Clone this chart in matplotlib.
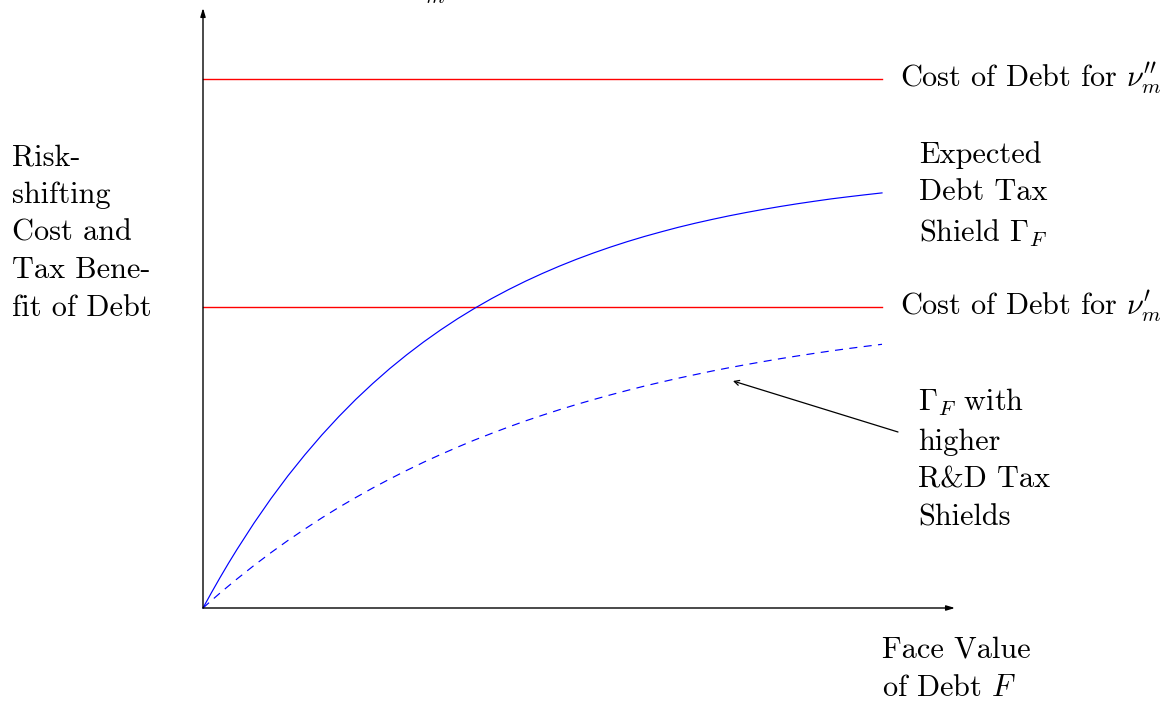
import matplotlib
matplotlib.use("Agg")
import matplotlib.pyplot as plt

plt.rcParams['font.family'] = ['cmr10', 'DejaVu Serif']
plt.rcParams['mathtext.fontset'] = 'cm'
plt.rcParams['axes.formatter.use_mathtext'] = True
plt.rcParams['lines.scale_dashes'] = False

# Face value of debt F (normalised 0..1)
face_value = [0.0, 0.0125, 0.025, 0.0375, 0.05, 0.075, 0.10, 0.125, 0.15, 0.175, 0.20,
              0.225, 0.25, 0.275, 0.30, 0.325, 0.35, 0.375, 0.40, 0.425, 0.45, 0.475,
              0.50, 0.525, 0.55, 0.575, 0.60, 0.625, 0.65, 0.675, 0.70, 0.725, 0.75,
              0.775, 0.80, 0.825, 0.85, 0.875, 0.90, 0.925, 0.95, 0.975, 1.00]
# Expected debt tax shield Gamma_F
tax_shield = [0.0, 15.4, 30.3, 44.7, 58.5, 84.8, 109.3, 132.1, 153.2, 173.0, 191.4,
              208.6, 224.5, 239.4, 253.2, 266.1, 278.1, 289.3, 299.7, 309.4, 318.4, 326.8,
              334.6, 341.9, 348.7, 355.0, 360.9, 366.4, 371.5, 376.2, 380.7, 384.8, 388.6,
              392.2, 395.5, 398.6, 401.5, 404.2, 406.7, 409.1, 411.2, 413.2, 415.1]
# Gamma_F with higher R&D tax shields
tax_shield_rd = [0.0, 7.5, 14.9, 22.0, 29.0, 42.5, 55.3, 67.5, 79.0, 90.1, 100.6,
                 110.5, 120.0, 129.0, 137.6, 145.8, 153.5, 160.9, 168.0, 174.6, 181.0, 187.1,
                 192.8, 198.3, 203.5, 208.4, 213.1, 217.6, 221.9, 225.9, 229.8, 233.4, 237.0,
                 240.3, 243.4, 246.4, 249.3, 252.0, 254.6, 257.1, 259.4, 261.6, 263.7]
# Cost of debt levels
cost_high = 529.0   # nu''_m
cost_low = 301.0    # nu'_m
x_range = [0.0, 1.0]

W, H = 1175, 702
fig = plt.figure(figsize=(W / 100, H / 100), dpi=100)
ax = fig.add_axes([0, 0, 1, 1])
ax.set_xlim(-203 / 679, (W - 203) / 679)
ax.set_ylim(-(H - 608), 608)
ax.axis('off')

def fx(px):
    return px / W

def fy(py):
    return 1 - py / H

# axes with arrows
arrow_kw = dict(arrowstyle='-|>,head_length=0.5,head_width=0.15', color='black', lw=1.0,
                shrinkA=0, shrinkB=0)
ax.annotate('', xy=(0, 600), xytext=(0, 0), arrowprops=arrow_kw)
ax.annotate('', xy=((955 - 203) / 679, 0), xytext=(0, 0), arrowprops=arrow_kw)

# cost lines
ax.plot(x_range, [cost_high, cost_high], color='#ff0000', lw=1.0, snap=True)
ax.plot(x_range, [cost_low, cost_low], color='#ff0000', lw=1.0, snap=True)

# tax shield curves
ax.plot(face_value, tax_shield, color='#0000ff', lw=0.85)
ax.plot(face_value, tax_shield_rd, color='#0000ff', lw=0.85, linestyle=(0, (5.8, 4.6)))

fs = 21.8
ls = 1.48
fig.text(fx(900), fy(79), r"Cost of Debt for $\nu^{\prime\prime}_m$", fontsize=fs,
         ha='left', va='center')
fig.text(fx(900), fy(307), r"Cost of Debt for $\nu^{\prime}_m$", fontsize=fs,
         ha='left', va='center')
fig.text(fx(12), fy(233), "Risk-\nshifting\nCost and\nTax Bene-\nfit of Debt",
         fontsize=fs, ha='left', va='center', linespacing=ls)
fig.text(fx(919), fy(195), "Expected\nDebt Tax\nShield $\\Gamma_F$",
         fontsize=fs, ha='left', va='center', linespacing=ls)
fig.text(fx(918), fy(459), "$\\Gamma_F$ with\nhigher\nR&D Tax\nShields",
         fontsize=fs, ha='left', va='center', linespacing=ls)
fig.text(fx(882), fy(669), "Face Value\nof Debt $F$",
         fontsize=fs, ha='left', va='center', linespacing=ls)
# cut-off label at top edge (as in the reference)
fig.text(fx(446), fy(-1), r"$\nu_m$", fontsize=fs, ha='right', va='baseline')

# annotation arrow
ax.annotate('', xy=((733 - 203) / 679, 608 - 381), xytext=((898 - 203) / 679, 608 - 432),
            arrowprops=dict(arrowstyle='->,head_length=0.35,head_width=0.18', color='black',
                            lw=0.9, shrinkA=0, shrinkB=0))

fig.savefig('out.png', dpi=100)
